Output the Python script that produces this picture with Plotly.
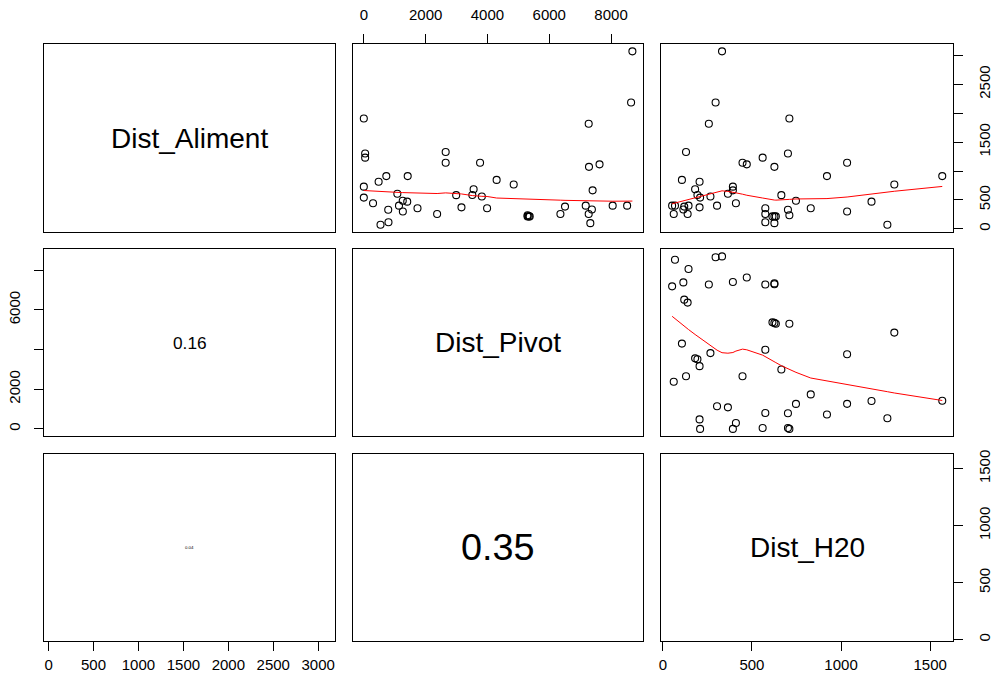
import math
import numpy as np
import plotly.graph_objects as go

# ---- data: one row per site (distance to food, to pivot, to water) ----
names = ["Dist_Aliment", "Dist_Pivot", "Dist_H20"]

aliment = [401, 257, 401, 846, 335, 385, 1330, 257, 401, 686, 586, 815, 372, 540,
           1817, 560, 2186, 401, 3070, 606, 730, 666, 443, 1143, 1115, 1231, 355,
           257, 115, 215, 1072, 215, 215, 98, 583, 1303, 329, 1909, 235, 487, 355,
           912, 1143, 300, 470, 72, 768, 912]

pivot = [7181, 2372, 8521, 4298, 7380, 6511, 2649, 6362, 8053, 3553, 3511, 479, 3160,
         0, 7277, 3819, 8649, 1138, 8691, 1085, 0, 7404, 298, 2649, 7628, 43, 3989,
         7277, 798, 5368, 7287, 5340, 5298, 7330, 2989, 43, 790, 0, 5300, 1260, 1737,
         728, 3762, 1263, 1405, 540, 4850, 1420]

h2o = [52, 61, 68, 107, 115, 120, 130, 139, 144, 181, 194, 206, 206, 209, 258, 267,
       296, 304, 332, 365, 393, 393, 410, 447, 471, 560, 575, 575, 575, 615, 626, 626,
       634, 626, 665, 702, 702, 710, 710, 747, 830, 921, 1034, 1034, 1171, 1260, 1299,
       1568]

# correlation labels shown in the lower panels: (row, col) -> text
cor_text = {(1, 0): "0.16", (2, 0): "0.04", (2, 1): "0.35"}

# tick positions and the labels actually printed (blank = tick without label)
ticks_aliment = [0, 500, 1000, 1500, 2000, 2500, 3000]
labels_aliment_bottom = ["0", "500", "1000", "1500", "2000", "2500", "3000"]
labels_aliment_right = ["0", "500", "", "1500", "", "2500", ""]
ticks_pivot = [0, 2000, 4000, 6000, 8000]
labels_pivot_top = ["0", "2000", "4000", "6000", "8000"]
labels_pivot_left = ["0", "2000", "", "6000", ""]
ticks_h2o = [0, 500, 1000, 1500]
labels_h2o = ["0", "500", "1000", "1500"]

data = [np.asarray(aliment, float), np.asarray(pivot, float), np.asarray(h2o, float)]


# ---- R-style lowess (clowess) used for the smoother in the upper panels ----
def _lowest(x, y, n, xs, nleft, nright, w, userw, rw):
    rng = x[n - 1] - x[0]
    h = max(xs - x[nleft], x[nright] - xs)
    h9, h1 = 0.999 * h, 0.001 * h
    a = 0.0
    j = nleft
    while j < n:
        w[j] = 0.0
        r = abs(x[j] - xs)
        if r <= h9:
            w[j] = 1.0 if r <= h1 else (1.0 - (r / h) ** 3) ** 3
            if userw:
                w[j] *= rw[j]
            a += w[j]
        elif x[j] > xs:
            break
        j += 1
    nrt = j - 1
    if a <= 0.0:
        return None
    for j in range(nleft, nrt + 1):
        w[j] /= a
    if h > 0.0:
        a = sum(w[j] * x[j] for j in range(nleft, nrt + 1))
        b = xs - a
        c = sum(w[j] * (x[j] - a) ** 2 for j in range(nleft, nrt + 1))
        if math.sqrt(c) > 0.001 * rng:
            b /= c
            for j in range(nleft, nrt + 1):
                w[j] *= b * (x[j] - a) + 1.0
    return sum(w[j] * y[j] for j in range(nleft, nrt + 1))


def lowess(x, y, f=2 / 3, iters=3):
    order = np.argsort(x, kind="stable")
    x = np.asarray(x, float)[order]
    y = np.asarray(y, float)[order]
    n = len(x)
    delta = 0.01 * (x[-1] - x[0])
    ns = max(2, min(n, int(f * n + 1e-7)))
    ys = np.zeros(n)
    rw = np.zeros(n)
    res = np.zeros(n)
    it = 1
    while it <= iters + 1:
        nleft, nright, last, i = 0, ns - 1, -1, 0
        while True:
            if nright < n - 1:
                if x[i] - x[nleft] > x[nright + 1] - x[i]:
                    nleft += 1
                    nright += 1
                    continue
            val = _lowest(x, y, n, x[i], nleft, nright, res, it > 1, rw)
            ys[i] = val if val is not None else y[i]
            if last < i - 1:
                denom = x[i] - x[last]
                for j in range(last + 1, i):
                    alpha = (x[j] - x[last]) / denom
                    ys[j] = alpha * ys[i] + (1 - alpha) * ys[last]
            last = i
            cut = x[last] + delta
            i = last + 1
            while i < n:
                if x[i] > cut:
                    break
                if x[i] == x[last]:
                    ys[i] = ys[last]
                    last = i
                i += 1
            i = max(last + 1, i - 1)
            if last >= n - 1:
                break
        res = y - ys
        sc = np.sum(np.abs(res)) / n
        if it > iters:
            break
        ar = np.sort(np.abs(res))
        m1 = n // 2
        cmad = 3.0 * (ar[m1] + ar[n - m1 - 1]) if n % 2 == 0 else 6.0 * ar[m1]
        if cmad < 1e-7 * sc:
            break
        c9, c1 = 0.999 * cmad, 0.001 * cmad
        r = np.abs(res)
        rw = np.where(r <= c1, 1.0, np.where(r <= c9, (1 - (r / cmad) ** 2) ** 2, 0.0))
        res = np.zeros(n)
        it += 1
    return x, ys


def ext(v):
    lo, hi = float(np.min(v)), float(np.max(v))
    d = 0.04 * (hi - lo)
    return [lo - d, hi + d]


# ---- panel geometry (pixels) ----
W, H = 993, 679
col_px = [(41.7, 336.0), (354.0, 647.3), (665.7, 960.7)]
row_px = [(40.7, 229.3), (247.3, 435.0), (453.3, 641.3)]

FONT = "Liberation Sans, Arial, sans-serif"
TICK_FONT = dict(family=FONT, size=15, color="black")

fig = go.Figure()
layout = {}
annotations = []

for r in range(3):
    for c in range(3):
        k = r * 3 + c + 1
        sfx = "" if k == 1 else str(k)
        x0, x1 = col_px[c]
        y0, y1 = row_px[r]
        base = dict(showgrid=False, zeroline=False, showline=True, mirror=True,
                    linecolor="black", linewidth=1, ticks="", showticklabels=False,
                    fixedrange=True)
        xa = dict(base, domain=[x0 / W, x1 / W], anchor="y" + sfx, range=ext(data[c]))
        ya = dict(base, domain=[1 - y1 / H, 1 - y0 / H], anchor="x" + sfx, range=ext(data[r]))
        layout["xaxis" + sfx] = xa
        layout["yaxis" + sfx] = ya

        if r < c:
            # scatter + smoother
            fig.add_trace(go.Scatter(
                x=data[c], y=data[r], mode="markers", xaxis="x" + sfx, yaxis="y" + sfx,
                marker=dict(symbol="circle-open", size=7, color="black",
                            line=dict(width=1.1, color="black")),
                showlegend=False, hoverinfo="skip"))
            lx, ly = lowess(data[c], data[r])
            fig.add_trace(go.Scatter(
                x=lx, y=ly, mode="lines", xaxis="x" + sfx, yaxis="y" + sfx,
                line=dict(color="red", width=1), showlegend=False, hoverinfo="skip"))
        else:
            # empty trace so the panel frame and its axes are drawn
            fig.add_trace(go.Scatter(
                x=[None], y=[None], mode="markers", xaxis="x" + sfx, yaxis="y" + sfx,
                showlegend=False, hoverinfo="skip"))
            if r == c:
                txt, size = names[r], 28
            else:
                txt = cor_text[(r, c)]
                size = max(1, 108 * float(txt))
            annotations.append(dict(
                text=txt, x=0.5, y=0.5, xref="x" + sfx + " domain",
                yref="y" + sfx + " domain", showarrow=False,
                font=dict(family=FONT, size=size, color="black")))


def tick_axis(ax, vals, texts, side, standoff, angle=0):
    ax.update(ticks="outside", ticklen=9, tickwidth=1, tickcolor="black",
              tickvals=vals, ticktext=texts, showticklabels=True, side=side,
              tickfont=TICK_FONT, tickangle=angle, ticklabelstandoff=standoff)


tick_axis(layout["xaxis2"], ticks_pivot, labels_pivot_top, "top", 8)
tick_axis(layout["yaxis3"], ticks_aliment, labels_aliment_right, "right", 9, -90)
tick_axis(layout["yaxis4"], ticks_pivot, labels_pivot_left, "left", 8, -90)
tick_axis(layout["xaxis7"], ticks_aliment, labels_aliment_bottom, "bottom", 1)
tick_axis(layout["xaxis9"], ticks_h2o, labels_h2o, "bottom", 1)
tick_axis(layout["yaxis9"], ticks_h2o, labels_h2o, "right", 9, -90)

fig.update_layout(
    width=W, height=H, margin=dict(l=0, r=0, t=0, b=0),
    paper_bgcolor="white", plot_bgcolor="white",
    annotations=annotations, **layout)

fig.write_html("out.html", config={"displayModeBar": False})
